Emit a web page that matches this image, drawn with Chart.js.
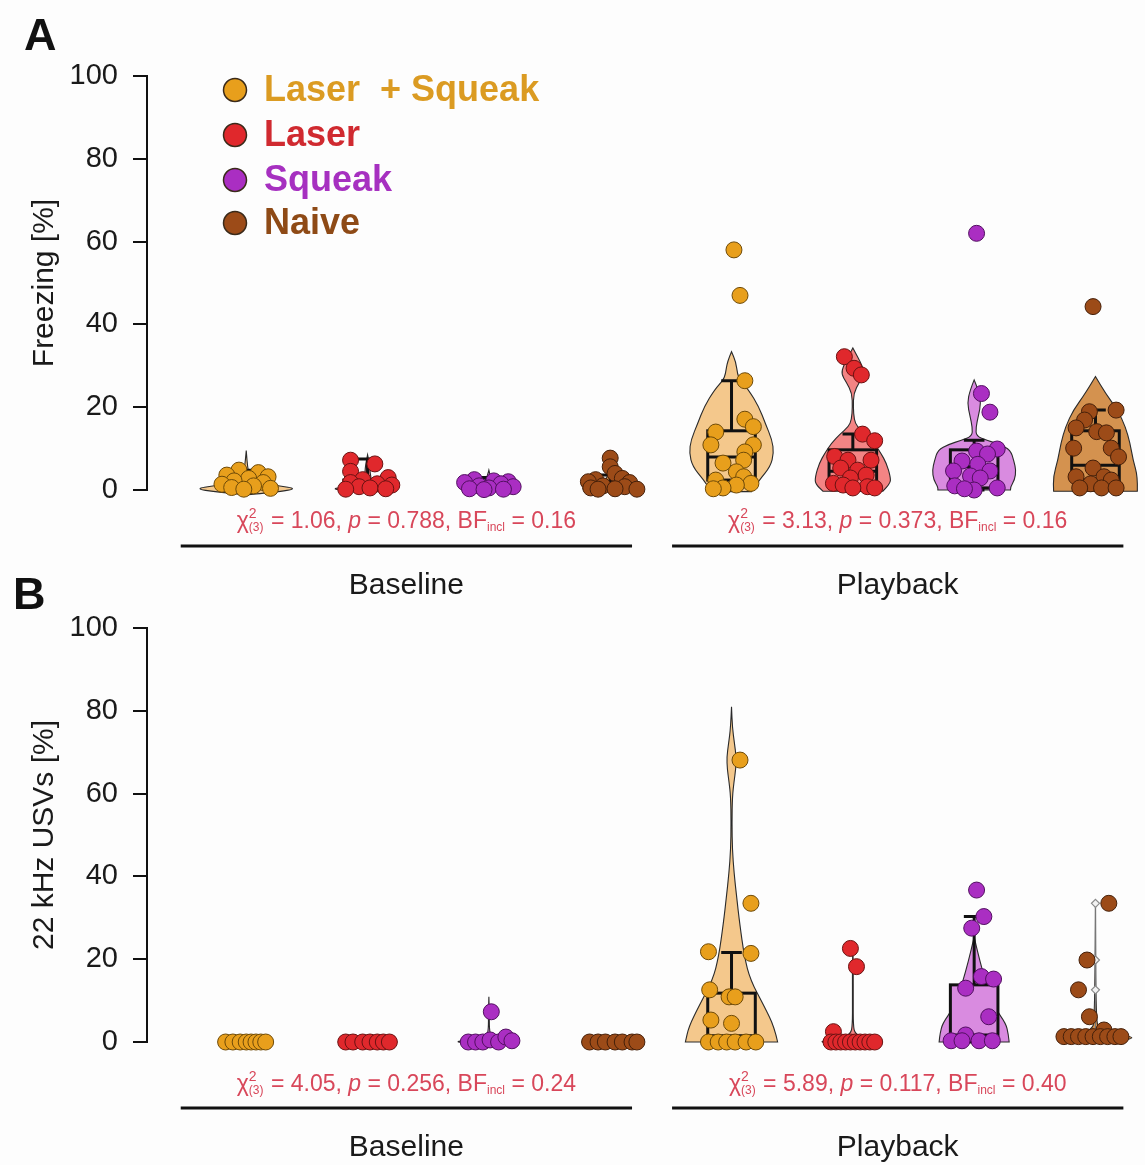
<!DOCTYPE html>
<html><head><meta charset="utf-8">
<script src="https://cdn.jsdelivr.net/npm/chart.js@4.4.1/dist/chart.umd.min.js"></script>
<style>
html,body{margin:0;padding:0;background:#fdfdfd;}
#wrap{position:relative;width:1145px;height:1165px;overflow:hidden;}
canvas{position:absolute;left:0;}
#cA{top:0;}
#cB{top:552px;}
</style></head><body>
<div id="wrap"><canvas id="cA" width="1145" height="613"></canvas><canvas id="cB" width="1145" height="613"></canvas></div>
<script>
// ---------- DATA ----------
const conditions = ['Laser  + Squeak', 'Laser', 'Squeak', 'Naive'];
const phases = ['Baseline', 'Playback'];
const yTicks = [0, 20, 40, 60, 80, 100];

// group order: LS-base, Laser-base, Squeak-base, Naive-base, LS-play, Laser-play, Squeak-play, Naive-play
const freezeVals = [
  [4.8,4.2,3.6,3.2,2.8,2.2,1.8,1.4,1.0,0.6,0.4,0.2],
  [7.2,6.3,4.5,3.0,2.5,1.8,1.5,1.2,0.8,0.5,0.3,0.2],
  [2.5,2.2,2.0,1.8,1.5,1.0,0.8,0.5,0.3,0.2,0.1],
  [7.7,5.6,4.0,2.8,2.5,2.0,1.8,1.0,0.8,0.5,0.3,0.2,0.2],
  [58,47,26.4,17.1,15.3,14.0,10.9,10.9,9.2,7.2,6.5,4.4,3.2,2.4,1.6,1.2,0.5,0.3],
  [32.2,29.4,27.8,13.5,11.9,8.1,7.2,7.2,5.3,4.8,3.6,2.9,1.6,1.2,0.8,0.5,0.5],
  [62,23.3,18.8,9.9,9.4,8.7,7.0,6.2,4.6,4.6,3.4,2.9,1.0,0.5,0,0.3],
  [44.3,19.3,18.9,16.9,15,14.1,13.8,10.1,10.1,8.0,5.3,3.2,3.2,2.4,1.5,0.5,0.5,0.5]
];
const freezeJit = [
  [-0.06,0.10,-0.16,0.18,0.02,-0.10,0.14,-0.20,0.06,-0.12,0.20,-0.02],
  [-0.14,0.06,-0.14,0.17,-0.04,-0.14,0.08,0.20,-0.07,0.02,0.15,-0.18],
  [-0.12,0.04,0.16,-0.20,0.10,-0.08,0.20,0.00,-0.16,0.12,-0.04],
  [0.00,0.00,0.04,0.10,-0.12,-0.18,0.16,-0.06,0.12,-0.16,0.04,-0.10,0.22],
  [0.02,0.07,0.11,0.11,0.18,-0.13,-0.17,0.18,0.11,0.10,-0.07,0.04,0.10,-0.13,0.16,0.04,-0.07,-0.15],
  [-0.07,0.01,0.07,0.08,0.18,-0.15,-0.04,0.15,-0.10,0.04,0.11,-0.02,-0.16,-0.08,0.12,0.18,0.00],
  [0.02,0.06,0.13,0.19,0.02,0.11,-0.10,0.03,-0.17,0.13,-0.03,0.05,-0.16,0.19,0.00,-0.08],
  [-0.02,0.17,-0.05,-0.09,-0.16,0.01,0.09,-0.18,0.13,0.19,-0.02,-0.16,0.07,0.13,-0.04,0.05,0.17,-0.13]
];
// box stats: [low whisker, q1, median, q3, high whisker]
const freezeBox = [
  [0,0.5,1.2,3.0,4.8],[0,0.3,0.8,2.4,7.5],[0,0.3,1.0,2.2,3.0],[0,0.3,0.8,2.0,3.6],
  [0,2.4,8.0,14.3,26.4],[0,1.0,4.5,9.7,13.5],[0,0.5,5.6,9.7,12.0],[0,2.4,6.0,14.3,19.3]
];
// violin density profiles: [value, relative half-width]
const freezeViolin = [
  [[-1.2,0],[-0.5,0.7],[0.3,1.2],[1,0.75],[2,0.3],[3,0.12],[4.5,0.04],[9.5,0]],
  [[-0.5,0],[0.2,0.95],[1,0.3],[2,0.1],[4,0.06],[6,0.05],[8.5,0]],
  [[-0.5,0],[0.3,0.8],[1,0.4],[2,0.1],[3.5,0.03],[4.8,0]],
  [[-0.5,0],[0.2,0.78],[1,0.35],[2,0.12],[4,0.04],[7,0]],
  [[-0.4,0.47],[2.4,0.65],[5.6,0.91],[8.9,0.99],[12.1,0.95],[16.1,0.79],[20.1,0.64],[24.2,0.4],[26.5,0.2],[28,0.14],[31,0.1],[33.4,0]],
  [[-0.3,0.7],[1.5,0.88],[3.2,0.88],[6.4,0.79],[9,0.65],[11.3,0.5],[13.5,0.3],[15.3,0.1],[17,0.03],[20,0.01],[23.4,0.02],[26,0.15],[28,0.27],[30,0.22],[32,0.12],[34.3,0]],
  [[0,0.85],[0.8,0.85],[2.5,0.95],[4.8,0.98],[7,0.93],[9.7,0.85],[11,0.6],[12,0.3],[13,0.05],[15,0.04],[18,0.1],[21,0.16],[24,0.1],[26.6,0]],
  [[-0.3,0.98],[3.2,0.99],[7.2,0.88],[11.3,0.81],[15.3,0.7],[19.3,0.52],[23.4,0.23],[27.4,0]]
];
const freezeStats = [['1.06','0.788','0.16'], ['3.13','0.373','0.16']];

const usvVals = [
  [0,0,0,0,0,0,0,0],
  [0,0,0,0,0,0,0],
  [7.3,0,0,0,0.5,0,1.2,0.3],
  [0,0,0,0,0,0,0],
  [68.1,33.5,21.8,21.4,12.6,10.9,10.9,5.3,4.5,0,0,0,0,0,0],
  [22.6,18.2,2.5,0,0,0,0,0,0,0,0,0,0],
  [36.7,30.3,27.5,15.8,15.2,13.0,6.1,1.7,0.3,0.3,0.3,0.3],
  [33.5,19.8,12.6,6.1,2.9,1.3,1.3,1.3,1.3,1.3,1.3,1.3,1.3,1.3]
];
const usvJit = [
  [-0.17,-0.11,-0.05,0.00,0.04,0.08,0.12,0.16],
  [-0.18,-0.12,-0.04,0.02,0.08,0.13,0.18],
  [0.02,-0.17,-0.11,-0.05,0.01,0.08,0.14,0.19],
  [-0.17,-0.10,-0.04,0.04,0.10,0.18,0.22],
  [0.07,0.16,-0.19,0.16,-0.18,-0.02,0.03,-0.17,0.00,-0.19,-0.11,-0.04,0.03,0.12,0.20],
  [-0.02,0.03,-0.16,-0.18,-0.14,-0.10,-0.06,-0.02,0.02,0.06,0.10,0.14,0.18],
  [0.02,0.08,-0.02,0.06,0.16,-0.07,0.12,-0.07,-0.19,-0.10,0.04,0.15],
  [0.11,-0.07,-0.14,-0.05,0.07,-0.26,-0.20,-0.14,-0.08,-0.02,0.04,0.10,0.16,0.21]
];
const usvBox = [
  [0,0,0,0,0],[0,0,0,0,0],[0,0,0,0.3,0.5],[0,0,0,0,0],
  [0,0,1.5,11.8,21.6],[0,0,0,0.5,0.5],[0,0.5,1.7,13.8,30.3],[1.0,1.1,1.3,1.5,1.5]
];
const usvViolin = [
  [],
  [],
  [[-0.5,0],[0,0.9],[0.6,0.3],[1.5,0.05],[3,0.01],[7,0.01],[10.9,0]],
  [],
  [[0,1.08],[3.7,1.0],[8.5,0.77],[15,0.44],[20.6,0.3],[28.7,0.19],[35,0.12],[40.8,0.06],[46.4,0.02],[53,0.01],[59.3,0.02],[63,0.06],[66,0.1],[68.9,0.11],[72,0.07],[76,0.02],[81,0]],
  [[-0.8,0],[0,0.9],[0.8,0.3],[2,0.05],[4,0.01],[10,0.008],[18,0.01],[23,0]],
  [[0,0.82],[2,0.8],[4.5,0.74],[8,0.5],[12.6,0.33],[16.6,0.21],[22.2,0.07],[25.4,0]],
  [[0,0.5],[0.8,0.85],[1.3,0.85],[2,0.4],[3,0.1],[5,0.01],[33.5,0]]
];
const usvOutlierMarks = [[],[],[],[],[],[],[],[33.5,19.8,12.6]];
const usvStats = [['4.05','0.256','0.24'], ['5.89','0.117','0.40']];

// ---------- STYLE ----------
const FONT = '"Liberation Sans", Arial, Helvetica, sans-serif';
const pointColors = ['#E89F1C', '#E0282C', '#AA2EC2', '#9C4B18'];
const pointBorders = ['#6e4a08', '#6a1212', '#521060', '#45200a'];
const violinColors = ['#F4C88C', '#F38484', '#D98BE0', '#D4924F'];
const legendTextColors = ['#DB9B22', '#D02A30', '#A630C0', '#8E4A16'];
const statColor = '#D8475A';
const VHALF = 0.352, BOXHALF = 0.196, CAPHALF = 0.085;
const phaseSpans = [[0.46, 4.18], [4.51, 8.23]];

function smoothSide(ctx, pts, start) {
  if (start) ctx.moveTo(pts[0][0], pts[0][1]); else ctx.lineTo(pts[0][0], pts[0][1]);
  for (let i = 1; i < pts.length - 1; i++) {
    const mx = (pts[i][0] + pts[i+1][0]) / 2, my = (pts[i][1] + pts[i+1][1]) / 2;
    ctx.quadraticCurveTo(pts[i][0], pts[i][1], mx, my);
  }
  const l = pts[pts.length-1];
  ctx.lineTo(l[0], l[1]);
}

function drawStats(ctx, cx, cy, st) {
  const big = 23, sm = 12;
  const runs = [
    {t: 'χ', f: `${big}px ${FONT}`, dy: 0},
    {stack: [{t: '2', f: `${sm+2}px ${FONT}`, dy: -8}, {t: '(3)', f: `${sm}px ${FONT}`, dy: 6}]},
    {t: ` = ${st[0]}, `, f: `${big}px ${FONT}`, dy: 0},
    {t: 'p', f: `italic ${big}px ${FONT}`, dy: 0},
    {t: ` = ${st[1]}, BF`, f: `${big}px ${FONT}`, dy: 0},
    {t: 'incl', f: `${sm}px ${FONT}`, dy: 6},
    {t: ` = ${st[2]}`, f: `${big}px ${FONT}`, dy: 0}
  ];
  let total = 0;
  runs.forEach(r => {
    if (r.stack) { r.w = Math.max(...r.stack.map(s => { ctx.font = s.f; return ctx.measureText(s.t).width; })) + 1; }
    else { ctx.font = r.f; r.w = ctx.measureText(r.t).width; }
    total += r.w;
  });
  let x = cx - total / 2;
  ctx.fillStyle = statColor; ctx.textAlign = 'left'; ctx.textBaseline = 'middle';
  runs.forEach(r => {
    if (r.stack) r.stack.forEach(s => { ctx.font = s.f; ctx.fillText(s.t, x, cy + s.dy); });
    else { ctx.font = r.f; ctx.fillText(r.t, x, cy + r.dy); }
    x += r.w;
  });
}

function makeOverlay(panel) {
  return {
    id: 'overlay' + panel.letter,
    beforeDatasetsDraw(chart) {
      const {ctx, scales: {x, y}} = chart;
      ctx.save();
      for (let g = 0; g < 8; g++) {
        const c = g % 4, cx = g + 1;
        const prof = panel.violin[g];
        if (prof.length) {
          const right = prof.map(([v, w]) => [x.getPixelForValue(cx + w * VHALF), y.getPixelForValue(v)]);
          const left = prof.slice().reverse().map(([v, w]) => [x.getPixelForValue(cx - w * VHALF), y.getPixelForValue(v)]);
          ctx.beginPath();
          smoothSide(ctx, right, true);
          smoothSide(ctx, left, false);
          ctx.closePath();
          ctx.fillStyle = violinColors[c]; ctx.fill();
          ctx.lineWidth = 1.1; ctx.strokeStyle = '#2a2a2a'; ctx.stroke();
        }
        const [lo, q1, med, q3, hi] = panel.box[g];
        if (hi > lo) {
          const x0 = x.getPixelForValue(cx - BOXHALF), x1 = x.getPixelForValue(cx + BOXHALF);
          const xc = x.getPixelForValue(cx);
          const c0 = x.getPixelForValue(cx - CAPHALF), c1 = x.getPixelForValue(cx + CAPHALF);
          const yq1 = y.getPixelForValue(q1), yq3 = y.getPixelForValue(q3), ym = y.getPixelForValue(med);
          const ylo = y.getPixelForValue(lo), yhi = y.getPixelForValue(hi);
          ctx.strokeStyle = '#111'; ctx.lineWidth = 3;
          ctx.beginPath();
          if (hi > q3) { ctx.moveTo(xc, yq3); ctx.lineTo(xc, yhi); ctx.moveTo(c0, yhi); ctx.lineTo(c1, yhi); }
          if (q1 > lo) { ctx.moveTo(xc, yq1); ctx.lineTo(xc, ylo); ctx.moveTo(c0, ylo); ctx.lineTo(c1, ylo); }
          ctx.stroke();
          ctx.fillStyle = violinColors[c];
          ctx.fillRect(x0, yq3, x1 - x0, yq1 - yq3);
          ctx.strokeRect(x0, yq3, x1 - x0, yq1 - yq3);
          ctx.beginPath(); ctx.moveTo(x0, ym); ctx.lineTo(x1, ym); ctx.stroke();
        }
        if ((panel.marks[g] || []).length) {
          const px = x.getPixelForValue(cx);
          ctx.beginPath(); ctx.moveTo(px, y.getPixelForValue(hi)); ctx.lineTo(px, y.getPixelForValue(Math.max(...panel.marks[g])));
          ctx.lineWidth = 1.2; ctx.strokeStyle = '#777'; ctx.stroke();
        }
        (panel.marks[g] || []).forEach(v => {
          const px = x.getPixelForValue(cx), py = y.getPixelForValue(v);
          ctx.beginPath();
          ctx.moveTo(px, py - 4); ctx.lineTo(px + 4, py); ctx.lineTo(px, py + 4); ctx.lineTo(px - 4, py); ctx.closePath();
          ctx.fillStyle = '#f2f2f2'; ctx.fill();
          ctx.lineWidth = 1.2; ctx.strokeStyle = '#8a8a8a'; ctx.stroke();
        });
      }
      ctx.restore();
    },
    afterDraw(chart) {
      const {ctx, scales: {x}, chartArea} = chart;
      ctx.save();
      phases.forEach((ph, p) => {
        const xa = x.getPixelForValue(phaseSpans[p][0]), xb = x.getPixelForValue(phaseSpans[p][1]);
        const xm = (xa + xb) / 2;
        drawStats(ctx, xm, chartArea.bottom + panel.statOff, panel.stats[p]);
        ctx.beginPath(); ctx.moveTo(xa, chartArea.bottom + panel.lineOff); ctx.lineTo(xb, chartArea.bottom + panel.lineOff);
        ctx.lineWidth = 3; ctx.strokeStyle = '#111'; ctx.stroke();
        ctx.font = `30px ${FONT}`; ctx.fillStyle = '#1a1a1a'; ctx.textAlign = 'center'; ctx.textBaseline = 'middle';
        ctx.fillText(ph, xm, chartArea.bottom + panel.labelOff);
      });
      ctx.font = `bold 45px ${FONT}`; ctx.fillStyle = '#111'; ctx.textAlign = 'left'; ctx.textBaseline = 'alphabetic';
      ctx.fillText(panel.letter, panel.letterX, panel.letterY);
      if (panel.legend) {
        const rows = [90, 135, 180, 223];
        conditions.forEach((name, c) => {
          ctx.beginPath(); ctx.arc(235, rows[c], 11.5, 0, Math.PI * 2);
          ctx.fillStyle = pointColors[c]; ctx.fill();
          ctx.lineWidth = 1.5; ctx.strokeStyle = '#3a2a1a'; ctx.stroke();
          ctx.font = `bold 36px ${FONT}`; ctx.fillStyle = legendTextColors[c];
          ctx.textAlign = 'left'; ctx.textBaseline = 'middle';
          ctx.fillText(name, 264, rows[c] + 1);
        });
      }
      ctx.restore();
    }
  };
}

function makeDatasets(vals, jits) {
  return conditions.map((name, c) => {
    const data = [];
    phases.forEach((ph, p) => {
      const g = p * 4 + c;
      vals[g].forEach((v, i) => data.push({x: g + 1 + jits[g][i], y: v}));
    });
    return {
      label: name, data,
      backgroundColor: pointColors[c], borderColor: pointBorders[c], borderWidth: 1,
      pointRadius: 8, pointHoverRadius: 8, clip: false
    };
  });
}

function makeChart(id, title, vals, jits, panel) {
  return new Chart(document.getElementById(id), {
    type: 'scatter',
    data: {datasets: makeDatasets(vals, jits)},
    options: {
      responsive: false, animation: false, events: [],
      layout: {padding: {left: 0, right: 0, top: 76, bottom: 123}},
      plugins: {legend: {display: false}, tooltip: {enabled: false}},
      scales: {
        x: {type: 'linear', display: false, min: 0.182, max: 8.334},
        y: {
          type: 'linear', min: 0, max: 100,
          afterBuildTicks: s => { s.ticks = yTicks.map(v => ({value: v})); },
          afterFit: s => { s.width = 147; },
          ticks: {font: {size: 29, family: FONT}, color: '#1a1a1a', padding: 15},
          grid: {drawOnChartArea: false, drawTicks: true, tickLength: 14, tickWidth: 2, color: '#111', lineWidth: 2},
          border: {display: true, color: '#111', width: 2},
          title: {display: true, text: title, font: {size: 30, family: FONT}, color: '#1a1a1a', padding: {top: 27, bottom: 0}}
        }
      }
    },
    plugins: [makeOverlay(panel)]
  });
}

makeChart('cA', 'Freezing [%]', freezeVals, freezeJit, {
  letter: 'A', letterX: 24, letterY: 50, legend: true,
  violin: freezeViolin, box: freezeBox, marks: [[],[],[],[],[],[],[],[]], stats: freezeStats,
  statOff: 32, lineOff: 56, labelOff: 96
});
makeChart('cB', '22 kHz USVs [%]', usvVals, usvJit, {
  letter: 'B', letterX: 13, letterY: 57, legend: false,
  violin: usvViolin, box: usvBox, marks: usvOutlierMarks, stats: usvStats,
  statOff: 43, lineOff: 66, labelOff: 106
});
</script>
</body></html>
